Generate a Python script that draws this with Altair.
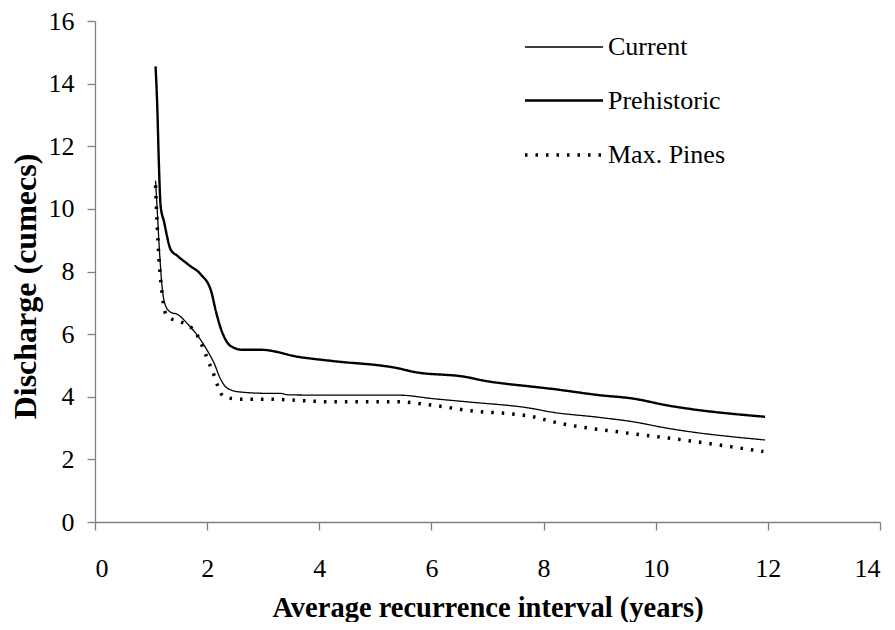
import altair as alt
import pandas as pd

series_names = ["Current", "Prehistoric", "Max. Pines"]

current_x = [1.08, 1.11, 1.14, 1.20, 1.26, 1.35, 1.47, 1.65, 1.89, 2.04, 2.13, 2.21, 2.30, 2.45, 2.60,
             3.05, 3.29, 3.46, 4.24, 5.43, 6.02, 6.62, 7.81, 8.11, 9.00, 9.60, 10.19, 11.95]
current_y = [10.9, 9.95, 8.95, 7.45, 6.9, 6.7, 6.63, 6.33, 5.8, 5.36, 5.05, 4.68, 4.38, 4.2, 4.15,
             4.11, 4.11, 4.06, 4.05, 4.05, 3.94, 3.84, 3.62, 3.52, 3.34, 3.2, 3.0, 2.62]

prehist_x = [1.08, 1.11, 1.14, 1.17, 1.23, 1.35, 1.47, 1.68, 1.89, 2.07, 2.16, 2.24, 2.42, 2.63,
             2.96, 3.64, 4.24, 5.43, 5.67, 6.62, 6.92, 7.81, 8.11, 9.00, 9.60, 10.19, 11.95]
prehist_y = [14.55, 13.3, 11.4, 10.1, 9.6, 8.7, 8.5, 8.2, 7.9, 7.38, 6.7, 6.2, 5.62, 5.5,
             5.5, 5.27, 5.14, 4.9, 4.8, 4.63, 4.52, 4.32, 4.26, 4.05, 3.94, 3.73, 3.36]

pines_x = [1.08, 1.11, 1.14, 1.20, 1.26, 1.35, 1.47, 1.77, 2.07, 2.30, 2.60, 3.05, 4.24, 5.37,
           6.02, 6.62, 7.81, 8.17, 9.54, 10.49, 11.92]
pines_y = [10.75, 9.45, 8.45, 7.25, 6.65, 6.5, 6.43, 6.11, 4.93, 4.0, 3.92, 3.92, 3.84, 3.84,
           3.73, 3.57, 3.36, 3.2, 2.83, 2.62, 2.25]

x_ticks = [0, 2, 4, 6, 8, 10, 12, 14]
y_ticks = [0, 2, 4, 6, 8, 10, 12, 14, 16]

rows = []
for name, xs, ys in [("Current", current_x, current_y),
                     ("Prehistoric", prehist_x, prehist_y),
                     ("Max. Pines", pines_x, pines_y)]:
    for i, (a, b) in enumerate(zip(xs, ys)):
        rows.append({"series": name, "interval": a, "discharge": b, "order": i})
df = pd.DataFrame(rows)

FONT = "Liberation Serif"

legend = alt.Legend(title=None, labelFont=FONT, labelFontSize=26, labelColor="black",
                    orient="none", legendX=428, legendY=-14,
                    symbolType="stroke", symbolSize=6084, symbolStrokeColor="black",
                    rowPadding=-8, labelOffset=3)

common_axis = dict(grid=False, tickSize=8, labelFont=FONT, titleFont=FONT, labelFontSize=26,
                   labelColor="black", titleColor="black", titleFontWeight="bold",
                   domainColor="#808080", tickColor="#808080", domainWidth=1.3, tickWidth=1.3)

chart = alt.Chart(df).mark_line(interpolate="monotone", color="black").encode(
    x=alt.X("interval:Q",
            scale=alt.Scale(domain=[0, 14], nice=False, zero=False),
            axis=alt.Axis(values=x_ticks, title="Average recurrence interval (years)",
                          labelPadding=25, titleY=94, titleBaseline="alphabetic",
                          titleFontSize=28.5, **common_axis)),
    y=alt.Y("discharge:Q",
            scale=alt.Scale(domain=[0, 16], nice=False),
            axis=alt.Axis(values=y_ticks, title="Discharge (cumecs)",
                          labelPadding=13, titleX=-70, titleY=265, titleBaseline="middle",
                          titleFontSize=32, **common_axis)),
    order="order:Q",
    strokeWidth=alt.StrokeWidth("series:N",
                                scale=alt.Scale(domain=series_names, range=[1.3, 3.5, 1.1]),
                                legend=legend),
    strokeDash=alt.StrokeDash("series:N",
                              scale=alt.Scale(domain=series_names, range=[[1, 0], [1, 0], [2.5, 8]]),
                              legend=legend),
).properties(
    width=785, height=501,
    autosize=alt.AutoSizeParams(type="none"),
    padding={"left": 87, "top": 13, "right": 7, "bottom": 100},
).configure_view(
    stroke=None
)

chart.save("out.html", embed_options={"renderer": "svg", "actions": False})
